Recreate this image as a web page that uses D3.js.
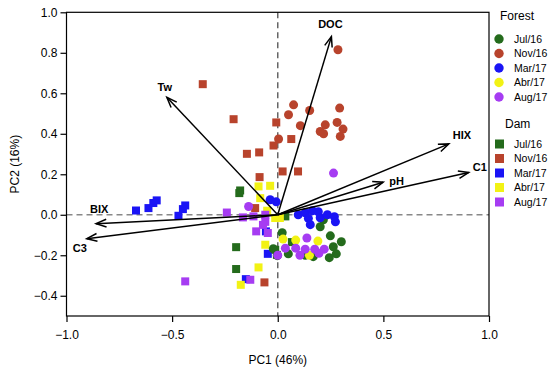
<!DOCTYPE html>
<html>
<head>
<meta charset="utf-8">
<script src="https://cdn.jsdelivr.net/npm/d3@7"></script>
<style>
  body { margin: 0; background: #fff; }
  text { font-family: "Liberation Sans", Arial, sans-serif; }
</style>
</head>
<body>
<svg id="chart" width="550" height="375"></svg>
<script>
// sample scores, [PC1, PC2]
const forestJul16 = [[0.216,-0.025],[0.201,-0.059],[0.249,-0.104],[0.301,-0.133],[0.263,-0.158],[0.277,-0.193],[0.244,-0.212],[-0.021,-0.168],[-0.002,-0.202],[0.05,-0.193],[0.168,-0.207],[0.021,-0.089],[0.13,-0.2]];
const forestNov16 = [[0.285,0.815],[0.075,0.543],[0.051,0.494],[0.151,0.515],[0.107,0.44],[0.004,0.374],[0.293,0.527],[0.225,0.444],[0.281,0.456],[0.309,0.423],[0.201,0.411],[0.217,0.4],[0.296,0.387]];
const forestMar17 = [[-0.036,0.074],[-0.007,0.064],[0.097,0.0],[0.13,0.01],[0.145,-0.018],[0.164,0.02],[0.192,0.015],[0.201,-0.015],[0.235,0.0],[0.268,-0.01],[0.154,-0.049],[0.273,-0.035]];
const forestAbr17 = [[0.025,-0.12],[0.085,-0.125],[0.19,-0.13],[0.15,-0.2]];
const forestAug17 = [[-0.138,0.041],[0.264,0.206],[0.036,-0.165],[0.085,-0.165],[0.13,-0.17],[0.175,-0.17],[0.22,-0.17],[0.195,-0.19],[0.138,-0.115],[0.105,-0.2],[0.0,-0.2]];

const damJul16 = [[-0.178,0.12],[-0.182,0.107],[-0.197,-0.16],[-0.197,-0.268],[-0.012,-0.173],[-0.004,-0.198],[0.067,-0.135],[0.036,-0.008]];
const damNov16 = [[-0.355,0.645],[-0.209,0.472],[-0.007,0.456],[-0.146,0.301],[-0.088,0.308],[-0.02,0.342],[0.064,0.374],[-0.086,0.186],[0.023,0.214],[0.096,0.214],[-0.107,0.033],[-0.063,-0.334]];
const damMar17 = [[-0.671,0.021],[-0.612,0.033],[-0.589,0.058],[-0.573,0.071],[-0.47,-0.005],[-0.449,0.028],[-0.438,0.046],[-0.047,-0.193],[-0.056,-0.082],[-0.151,-0.318]];
const damAbr17 = [[-0.091,0.14],[-0.036,0.143],[-0.083,0.082],[-0.012,-0.016],[0.01,-0.016],[-0.091,-0.26],[-0.175,-0.346],[-0.059,-0.148],[-0.05,0.02]];
const damAug17 = [[-0.438,-0.329],[-0.241,0.011],[-0.165,-0.013],[-0.115,-0.008],[-0.059,0.0],[-0.102,-0.082],[-0.059,-0.035],[-0.047,-0.09],[-0.13,-0.321],[-0.07,-0.05]];

// variable loadings
const loadingNames = ["DOC", "Tw", "HIX", "C1", "pH", "BIX", "C3"];
const loadingPC1 = [0.254, -0.525, 0.81, 0.904, 0.499, -0.86, -0.904];
const loadingPC2 = [0.88, 0.58, 0.35, 0.209, 0.161, -0.044, -0.118];

const months = ["Jul/16", "Nov/16", "Mar/17", "Abr/17", "Aug/17"];
const xTicks = [-1.0, -0.5, 0.0, 0.5, 1.0];
const yTicks = [-0.4, -0.2, 0.0, 0.2, 0.4, 0.6, 0.8, 1.0];

const colors = ["#246b1c", "#b8432c", "#1a14f5", "#f2f214", "#a63cf2"];

const svg = d3.select("#chart");
const x = d3.scaleLinear().domain([-1, 1]).range([66.5, 489]);
const y = d3.scaleLinear().domain([-0.5, 1.0]).range([316, 12.3]);

// zero lines
svg.append("line")
  .attr("x1", x(0)).attr("x2", x(0)).attr("y1", y(1)).attr("y2", y(-0.5))
  .attr("stroke", "#666").attr("stroke-width", 1.5).attr("stroke-dasharray", "6,4");
svg.append("line")
  .attr("x1", x(-1)).attr("x2", x(1)).attr("y1", y(0)).attr("y2", y(0))
  .attr("stroke", "#888").attr("stroke-width", 1.5).attr("stroke-dasharray", "6,4");

function drawGroup(data, color, shape) {
  const g = svg.append("g");
  if (shape === "circle") {
    g.selectAll("circle").data(data).join("circle")
      .attr("cx", d => x(d[0])).attr("cy", d => y(d[1]))
      .attr("r", 4.5).attr("fill", color);
  } else {
    g.selectAll("rect").data(data).join("rect")
      .attr("x", d => x(d[0]) - 4).attr("y", d => y(d[1]) - 4)
      .attr("width", 8).attr("height", 8).attr("fill", color);
  }
}

const forest = [forestJul16, forestNov16, forestMar17, forestAbr17, forestAug17];
const dam = [damJul16, damNov16, damMar17, damAbr17, damAug17];
dam.forEach((d, i) => drawGroup(d, colors[i], "square"));
forest.forEach((d, i) => drawGroup(d, colors[i], "circle"));

// loading arrows
const labelOffset = {
  DOC: [-1, -9, "middle"], Tw: [-2, -6, "middle"], HIX: [4, -5, "start"],
  C1: [4, -1, "start"], pH: [6, 3, "start"], BIX: [-6, -11, "start"], C3: [-14, 13, "start"]
};
const arrows = svg.append("g");
loadingNames.forEach((name, i) => {
  const x0 = x(0), y0 = y(0);
  const x1 = x(loadingPC1[i]), y1 = y(loadingPC2[i]);
  const ang = Math.atan2(y1 - y0, x1 - x0);
  const h = 11, spread = 0.36;
  arrows.append("line")
    .attr("x1", x0).attr("y1", y0).attr("x2", x1).attr("y2", y1)
    .attr("stroke", "#000").attr("stroke-width", 1.5);
  arrows.append("path")
    .attr("d", `M${x1 - h * Math.cos(ang - spread)},${y1 - h * Math.sin(ang - spread)}L${x1},${y1}L${x1 - h * Math.cos(ang + spread)},${y1 - h * Math.sin(ang + spread)}`)
    .attr("fill", "none").attr("stroke", "#000").attr("stroke-width", 1.5);
  const o = labelOffset[name];
  arrows.append("text")
    .attr("x", x1 + o[0]).attr("y", y1 + o[1])
    .attr("text-anchor", o[2])
    .attr("font-size", 11).attr("font-weight", "bold")
    .text(name);
});

// frame and axes
svg.append("rect")
  .attr("x", x(-1)).attr("y", y(1)).attr("width", x(1) - x(-1)).attr("height", y(-0.5) - y(1))
  .attr("fill", "none").attr("stroke", "#000").attr("stroke-width", 1.2);

const xAxis = svg.append("g")
  .attr("transform", `translate(0,${y(-0.5)})`)
  .call(d3.axisBottom(x).tickValues(xTicks).tickFormat(d3.format(".1f")).tickSize(6).tickSizeOuter(0));
const yAxis = svg.append("g")
  .attr("transform", `translate(${x(-1)},0)`)
  .call(d3.axisLeft(y).tickValues(yTicks).tickFormat(d3.format(".1f")).tickSize(6).tickSizeOuter(0));
[xAxis, yAxis].forEach(a => {
  a.select(".domain").remove();
  a.selectAll("line").attr("stroke-width", 1.2);
  a.selectAll("text").attr("font-size", 12).attr("fill", "#000")
    .style("font-family", '"Liberation Sans", Arial, sans-serif');
});
xAxis.selectAll("text").attr("dy", "1.15em");
yAxis.selectAll("text").attr("x", -9);

svg.append("text")
  .attr("x", x(0)).attr("y", 364).attr("text-anchor", "middle")
  .attr("font-size", 12).text("PC1 (46%)");
svg.append("text")
  .attr("transform", `translate(19,${y(0.25)}) rotate(-90)`).attr("text-anchor", "middle")
  .attr("font-size", 12).text("PC2 (16%)");

// legend
const legend = svg.append("g");
function legendBlock(title, titleY, firstY, shape) {
  legend.append("text").attr("x", shape === "circle" ? 500 : 505).attr("y", titleY)
    .attr("font-size", 12).text(title);
  months.forEach((m, i) => {
    const cy = firstY + i * 14.5;
    if (shape === "circle") {
      legend.append("circle").attr("cx", 499).attr("cy", cy).attr("r", 4.7).attr("fill", colors[i]);
    } else {
      legend.append("rect").attr("x", 495).attr("y", cy - 4.5).attr("width", 9).attr("height", 9).attr("fill", colors[i]);
    }
    legend.append("text").attr("x", 514).attr("y", cy + 3.6).attr("font-size", 10.5).text(m);
  });
}
legendBlock("Forest", 20, 39, "circle");
legendBlock("Dam", 128, 144, "square");
</script>
</body>
</html>
